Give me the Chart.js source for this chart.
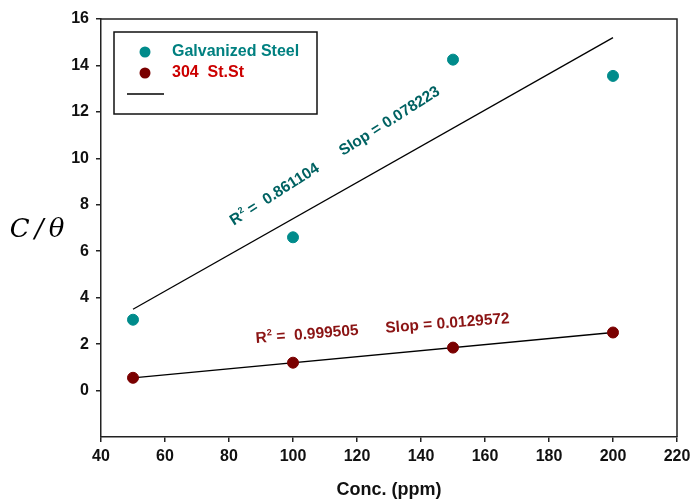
<!DOCTYPE html>
<html>
<head>
<meta charset="utf-8">
<script src="https://cdn.jsdelivr.net/npm/chart.js@4/dist/chart.umd.min.js"></script>
<style>
  html, body { margin: 0; padding: 0; background: #fff; }
  #wrap { width: 690px; height: 501px; }
</style>
</head>
<body>
<div id="wrap"><canvas id="canvas" width="690" height="501"></canvas></div>
<script>
// ---------- data ----------
let concentration = [50, 100, 150, 200]
let galvanized = [3.05, 6.6, 14.25, 13.55]
let stainless = [0.55, 1.2, 1.85, 2.5]

// fitted lines, end points
let fitX = [50, 200]
let galvanizedFit = [3.5, 15.2]
let stainlessFit = [0.55, 2.5]

let seriesNames = ['Galvanized Steel', '304  St.St']
let fitR2 = ['0.861104', '0.999505']
let fitSlope = ['0.078223', '0.0129572']

let xTicks = [40, 60, 80, 100, 120, 140, 160, 180, 200, 220]
let yTicks = [0, 2, 4, 6, 8, 10, 12, 14, 16]

// ---------- colours ----------
let teal = '#008b8b'
let darkRed = '#7a0000'
let axisColor = '#222'
let tickFont = { family: '"Liberation Sans", Arial, sans-serif', size: 16, weight: 'bold' }

function points(xs, ys) {
  return xs.map((x, i) => ({ x: x, y: ys[i] }))
}

// draws "R2 = ...   Slop = ..." along a slanted baseline
function drawFitLabel(ctx, x, y, angle, r2, slope, color) {
  let big = 'bold 15.5px "Liberation Sans", Arial, sans-serif'
  let small = 'bold 9px "Liberation Sans", Arial, sans-serif'
  ctx.save()
  ctx.translate(x, y)
  ctx.rotate(angle * Math.PI / 180)
  ctx.fillStyle = color
  ctx.textBaseline = 'alphabetic'
  ctx.textAlign = 'left'
  ctx.font = big
  let pos = 0
  ctx.fillText('R', pos, 0)
  pos += ctx.measureText('R').width + 0.5
  ctx.font = small
  ctx.fillText('2', pos, -6.5)
  pos += ctx.measureText('2').width
  ctx.font = big
  let first = ' =  ' + r2
  ctx.fillText(first, pos, 0)
  pos += ctx.measureText(first).width + 27
  ctx.fillText('Slop = ' + slope, pos, 0)
  ctx.restore()
}

// ---------- extras: frame, legend box, labels, y title ----------
let extras = {
  id: 'extras',
  afterDraw(chart) {
    let ctx = chart.ctx
    let area = chart.chartArea
    let xs = chart.scales.x
    let ys = chart.scales.y

    // top + right side of the frame
    ctx.save()
    ctx.strokeStyle = axisColor
    ctx.lineWidth = 1.5
    ctx.beginPath()
    ctx.moveTo(area.left, area.top)
    ctx.lineTo(area.right, area.top)
    ctx.lineTo(area.right, area.bottom)
    ctx.stroke()
    ctx.restore()

    // fit labels
    drawFitLabel(ctx, xs.getPixelForValue(81.5), ys.getPixelForValue(7.1), -32.5, fitR2[0], fitSlope[0], '#006262')
    drawFitLabel(ctx, xs.getPixelForValue(88.4), ys.getPixelForValue(2.05), -4.5, fitR2[1], fitSlope[1], '#8b1414')

    // legend box
    let lx = area.left + 13, ly = area.top + 13
    ctx.save()
    ctx.strokeStyle = '#111'
    ctx.lineWidth = 1.5
    ctx.strokeRect(lx, ly, 203, 82)
    ctx.fillStyle = teal
    ctx.beginPath(); ctx.arc(lx + 31, ly + 20, 5.5, 0, Math.PI * 2); ctx.fill()
    ctx.fillStyle = darkRed
    ctx.beginPath(); ctx.arc(lx + 31, ly + 41, 5.5, 0, Math.PI * 2); ctx.fill()
    ctx.font = 'bold 16px "Liberation Sans", Arial, sans-serif'
    ctx.textBaseline = 'middle'
    ctx.fillStyle = '#008080'
    ctx.fillText(seriesNames[0], lx + 58, ly + 20)
    ctx.fillStyle = '#cc0000'
    ctx.fillText(seriesNames[1], lx + 58, ly + 41)
    ctx.strokeStyle = '#000'
    ctx.lineWidth = 1.3
    ctx.beginPath(); ctx.moveTo(lx + 13, ly + 62); ctx.lineTo(lx + 50, ly + 62); ctx.stroke()
    ctx.restore()

    // y axis title, horizontal
    ctx.save()
    ctx.fillStyle = '#000'
    ctx.font = 'italic 26px "DejaVu Serif", "Liberation Serif", serif'
    ctx.textAlign = 'center'
    ctx.textBaseline = 'middle'
    ctx.fillText('C\u2009/\u2009\u03b8', 37, 230)
    ctx.restore()
  }
}

let config = {
  type: 'scatter',
  data: {
    datasets: [
      {
        label: seriesNames[0],
        data: points(concentration, galvanized),
        backgroundColor: teal,
        borderColor: teal,
        pointRadius: 5.5,
        order: 1
      },
      {
        label: seriesNames[1],
        data: points(concentration, stainless),
        backgroundColor: darkRed,
        borderColor: darkRed,
        pointRadius: 5.5,
        order: 1
      },
      {
        label: 'fit galvanized',
        data: points(fitX, galvanizedFit),
        showLine: true,
        borderColor: '#000',
        borderWidth: 1.3,
        pointRadius: 0,
        order: 2
      },
      {
        label: 'fit 304',
        data: points(fitX, stainlessFit),
        showLine: true,
        borderColor: '#000',
        borderWidth: 1.3,
        pointRadius: 0,
        order: 2
      }
    ]
  },
  options: {
    responsive: false,
    animation: false,
    layout: { padding: { top: 19, right: 13, left: 0, bottom: 0 } },
    plugins: {
      legend: { display: false },
      tooltip: { enabled: false }
    },
    scales: {
      x: {
        type: 'linear',
        min: 40,
        max: 220,
        afterBuildTicks: s => { s.ticks = xTicks.map(v => ({ value: v })) },
        afterFit: s => { s.height = 64; s.paddingLeft = 0; s.paddingRight = 0 },
        grid: { drawOnChartArea: false, drawTicks: true, tickLength: 5, color: axisColor, lineWidth: 1.5 },
        border: { display: true, color: axisColor, width: 1.5 },
        ticks: { color: '#111', font: tickFont, padding: 5, maxRotation: 0 },
        title: {
          display: true,
          text: 'Conc. (ppm)',
          color: '#111',
          font: { family: '"Liberation Sans", Arial, sans-serif', size: 18, weight: 'bold' },
          padding: { top: 0, bottom: 0 }
        }
      },
      y: {
        type: 'linear',
        min: -2,
        max: 16,
        afterBuildTicks: s => { s.ticks = yTicks.map(v => ({ value: v })) },
        afterFit: s => { s.width = 101; s.paddingTop = 0; s.paddingBottom = 0 },
        grid: { drawOnChartArea: false, drawTicks: true, tickLength: 5, color: axisColor, lineWidth: 1.5 },
        border: { display: true, color: axisColor, width: 1.5 },
        ticks: { color: '#111', font: tickFont, padding: 7 }
      }
    }
  },
  plugins: [extras]
}

let myChart = new Chart(document.getElementById('canvas').getContext('2d'), config)
</script>
</body>
</html>
